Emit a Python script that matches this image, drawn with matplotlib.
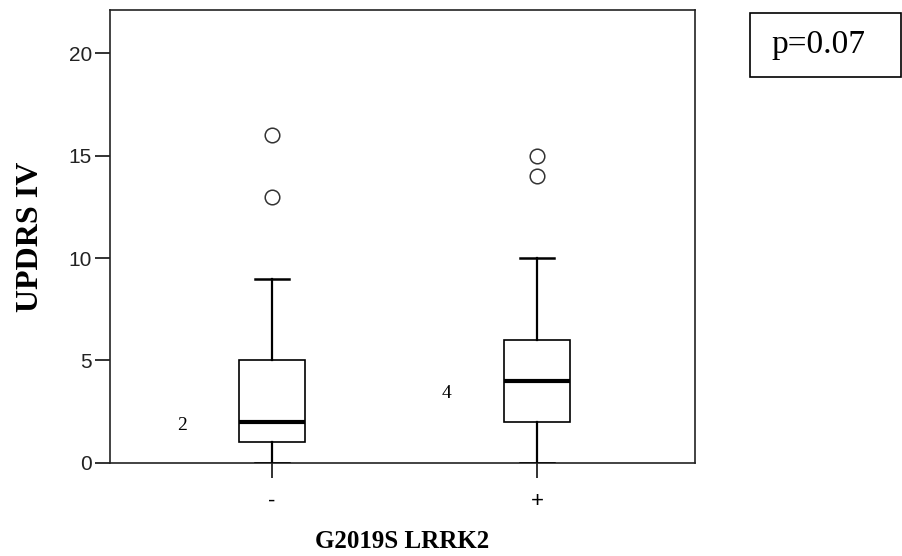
import matplotlib
matplotlib.use("Agg")
import matplotlib.pyplot as plt
from matplotlib.patches import Rectangle

# data
groups = ["-", "+"]
medians = [2, 4]
q1 = [1, 2]
q3 = [5, 6]
whisker_low = [0, 0]
whisker_high = [9, 10]
outliers = [[13, 16], [14, 15]]
median_labels = ["2", "4"]
label_y = [1.85, 3.4]
p_text = "p=0.07"

serif = ["Liberation Serif", "DejaVu Serif"]
sans = ["Liberation Sans", "DejaVu Sans"]

W, H = 903, 556
fig = plt.figure(figsize=(W / 100, H / 100), dpi=100)
ax = fig.add_axes([0.1218, 0.1673, 0.6479, 0.8147])

stats = []
for i in range(len(groups)):
    stats.append({
        "med": medians[i], "q1": q1[i], "q3": q3[i],
        "whislo": whisker_low[i], "whishi": whisker_high[i],
        "fliers": outliers[i], "label": groups[i],
    })

positions = [1, 2]
ax.bxp(stats, positions=positions, widths=0.25, capwidths=0.125,
       patch_artist=True,
       boxprops=dict(facecolor="white", edgecolor="black", linewidth=1.2),
       medianprops=dict(color="black", linewidth=3),
       whiskerprops=dict(color="black", linewidth=1.6),
       capprops=dict(color="black", linewidth=1.8, zorder=4),
       flierprops=dict(marker="o", markerfacecolor="none",
                       markeredgecolor="#333333", markersize=10.5,
                       markeredgewidth=1.1))

# group medians written beside the boxes
for i in range(len(groups)):
    ax.text(positions[i] - 0.34, label_y[i], median_labels[i],
            family=serif, fontsize=14, ha="center", va="center")

ax.set_xlim(0.389, 2.596)
ax.set_ylim(0, 22.1)
ax.set_yticks([0, 5, 10, 15, 20])
ax.set_xticks(positions)
ax.set_xticklabels(groups, family=sans, fontsize=16)
for lab in ax.get_yticklabels():
    lab.set_family(sans)
    lab.set_fontsize(15)
    lab.set_color("#222222")

ax.tick_params(axis="both", direction="out", length=11, width=1.3,
               color="#222222", pad=2)
ax.tick_params(axis="x", pad=9)
for sp in ax.spines.values():
    sp.set_linewidth(1.2)
    sp.set_color("#222222")

ax.set_ylabel("UPDRS IV", family=serif, fontweight="bold", fontsize=23,
              labelpad=17)
ax.set_xlabel("G2019S LRRK2", family=serif, fontweight="bold", fontsize=18,
              labelpad=13)

# p-value box, top right
fig.patches.append(Rectangle((750 / W, 1 - 77 / H), 151 / W, 64 / H,
                             transform=fig.transFigure, facecolor="white",
                             edgecolor="black", linewidth=1.2))
fig.text(771 / W, 1 - 45 / H, p_text, family=serif, fontsize=24,
         ha="left", va="center")

fig.savefig("out.png", dpi=100)
